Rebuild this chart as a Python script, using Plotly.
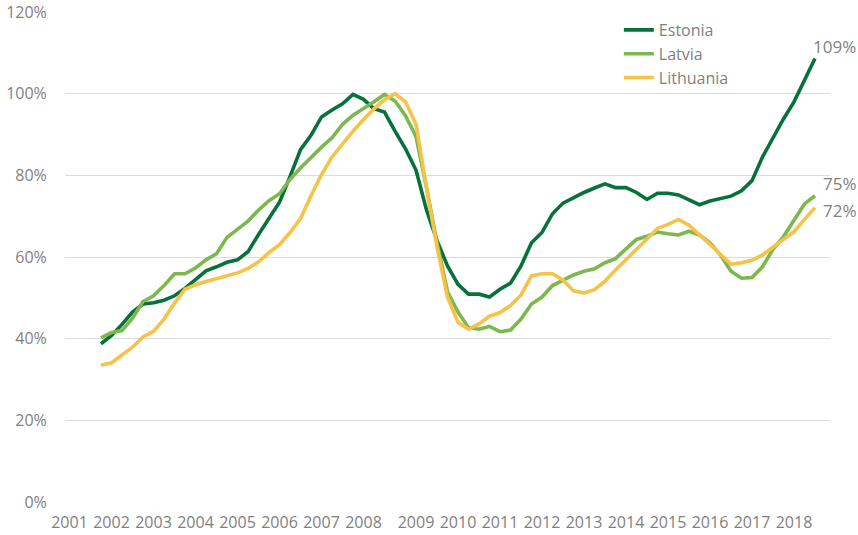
import plotly.graph_objects as go

# Quarterly series (index 0 = first quarter shown)
estonia = [38.7, 40.8, 43.5, 46.5, 48.5, 48.8, 49.4, 50.5, 52.3, 54.5,
           56.6, 57.6, 58.7, 59.3, 61.3, 65.5, 69.3, 73.4, 79.7, 86.3,
           89.8, 94.3, 96.0, 97.5, 99.8, 98.6, 96.3, 95.5, 90.8, 86.5,
           81.3, 71.5, 64.0, 57.8, 53.3, 50.9, 50.9, 50.2, 52.1, 53.6,
           57.8, 63.5, 66.0, 70.6, 73.2, 74.6, 75.8, 76.9, 77.9, 77.0,
           77.0, 75.8, 74.1, 75.6, 75.6, 75.2, 74.0, 72.8, 73.7, 74.4,
           74.9, 76.2, 78.7, 84.5, 89.3, 93.8, 98.0, 103.5, 108.6]
latvia = [40.2, 41.5, 42.0, 45.0, 49.1, 50.5, 53.0, 55.9, 55.9, 57.3,
          59.3, 60.8, 64.8, 66.7, 68.8, 71.5, 73.8, 75.5, 79.0, 81.8,
          84.4, 86.9, 89.2, 92.5, 94.7, 96.3, 98.0, 99.8, 98.2, 94.6,
          89.5, 77.0, 63.5, 51.5, 46.5, 42.7, 42.3, 43.0, 41.7, 42.1,
          44.8, 48.5, 50.2, 53.0, 54.3, 55.6, 56.5, 57.1, 58.6, 59.6,
          62.0, 64.3, 65.1, 66.1, 65.7, 65.4, 66.3, 65.4, 63.5, 60.5,
          56.5, 54.8, 55.0, 57.6, 61.9, 65.0, 69.0, 73.0, 75.0]
lithuania = [33.5, 34.1, 36.0, 37.9, 40.4, 41.8, 44.8, 48.7, 52.1, 53.2,
             54.0, 54.7, 55.4, 56.1, 57.2, 58.8, 61.1, 63.0, 66.0, 69.4,
             75.0, 80.2, 84.5, 87.8, 90.8, 93.7, 96.3, 98.5, 100.0, 98.0,
             92.5, 77.0, 62.5, 50.2, 44.0, 42.3, 43.6, 45.5, 46.4, 48.1,
             50.7, 55.4, 55.9, 55.9, 54.4, 51.7, 51.2, 52.0, 54.1, 56.8,
             59.2, 61.9, 64.4, 67.0, 68.0, 69.2, 67.8, 65.5, 63.1, 60.6,
             58.2, 58.6, 59.2, 60.5, 62.4, 64.4, 66.2, 69.2, 72.1]

year_labels = [str(y) for y in range(2001, 2019)]
y_ticks = [0, 20, 40, 60, 80, 100, 120]
end_labels = ["109%", "75%", "72%"]

series = [("Estonia", estonia, "#08703a"),
          ("Latvia", latvia, "#7cb84e"),
          ("Lithuania", lithuania, "#f6c247")]

fig = go.Figure()
for name, vals, col in series:
    fig.add_trace(go.Scatter(x=list(range(len(vals))), y=vals, mode="lines",
                             name=name, line=dict(color=col, width=3.6),
                             cliponaxis=False))

# year label positions on the quarter index axis
tick_pos = []
for k, lab in enumerate(year_labels):
    tick_pos.append(4 * k - 3 + (1 if int(lab) >= 2009 else 0))

grey = "#7f7f7f"
font_fam = "Open Sans, sans-serif"

fig.update_layout(
    width=858, height=535,
    margin=dict(l=65, r=28, t=12, b=33, autoexpand=False),
    paper_bgcolor="white", plot_bgcolor="white",
    font=dict(family=font_fam, size=16, color=grey),
    showlegend=True,
    legend=dict(x=0.724, y=0.998, xanchor="left", yanchor="top",
                font=dict(size=16, color=grey), bgcolor="rgba(0,0,0,0)",
                tracegroupgap=0),
    xaxis=dict(range=[-3.43, 69.43], tickmode="array", tickvals=tick_pos,
               ticktext=year_labels, showgrid=False, zeroline=False,
               showline=False, ticks="outside", ticklen=6, automargin=False,
               tickcolor="rgba(0,0,0,0)", tickfont=dict(size=16, color=grey)),
    yaxis=dict(range=[0, 120], tickmode="array", tickvals=y_ticks,
               ticktext=[f"{v}%" for v in y_ticks], showgrid=True,
               gridcolor="#dcdcdc", gridwidth=1, zeroline=False,
               showline=False, ticks="outside", ticklen=14, automargin=False,
               tickcolor="rgba(0,0,0,0)", tickfont=dict(size=16, color=grey)),
)

last = len(estonia) - 1
fig.add_annotation(x=last, y=estonia[-1], text=end_labels[0], showarrow=False,
                   xanchor="left", yanchor="middle", xshift=-4, yshift=12,
                   font=dict(size=17, color=grey))
fig.add_annotation(x=last, y=latvia[-1], text=end_labels[1], showarrow=False,
                   xanchor="left", yanchor="middle", xshift=6, yshift=12,
                   font=dict(size=17, color=grey))
fig.add_annotation(x=last, y=lithuania[-1], text=end_labels[2], showarrow=False,
                   xanchor="left", yanchor="middle", xshift=6, yshift=-3,
                   font=dict(size=17, color=grey))

fig.write_html(
    "out.html",
    config={"displayModeBar": False},
    post_script="document.body.style.margin='0px';"
                "document.body.style.overflow='hidden';",
)
